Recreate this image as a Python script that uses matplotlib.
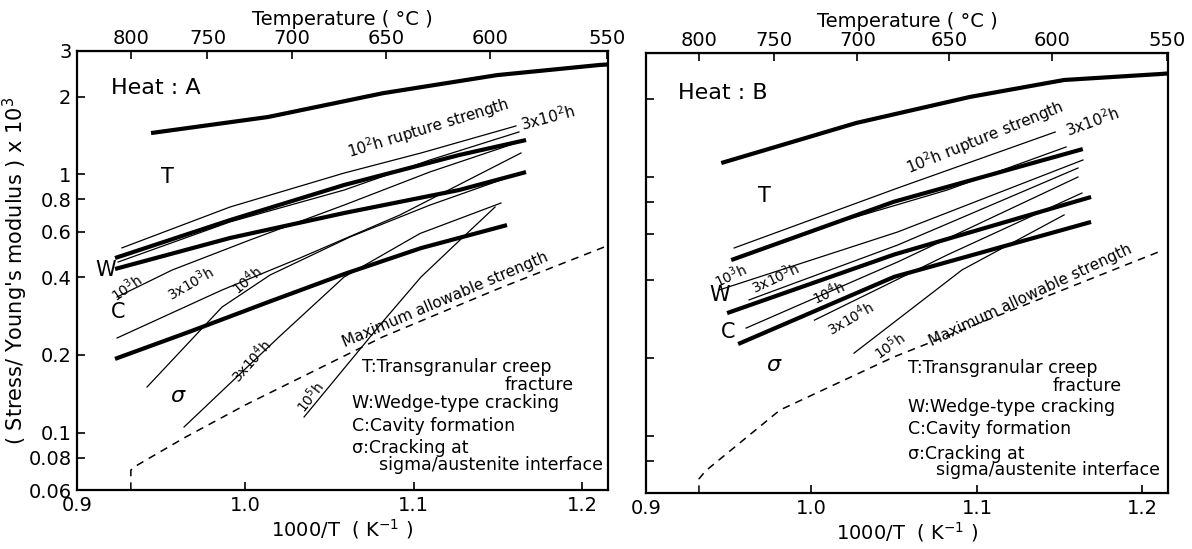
import numpy as np
import matplotlib
matplotlib.use("Agg")
import matplotlib.pyplot as plt

plt.rcParams['font.family'] = ['DejaVu Sans']

# ---------------- data: Heat A ----------------
A_T_x = [0.944, 1.0135, 1.0818, 1.1496, 1.2108, 1.2155]
A_T_y = [1.444, 1.666, 2.06, 2.42, 2.65, 2.66]
A_W_x = [0.9226, 0.991, 1.0587, 1.127, 1.1668]
A_W_y = [0.474, 0.665, 0.909, 1.187, 1.357]
A_C_x = [0.9226, 0.991, 1.0587, 1.127, 1.1668]
A_C_y = [0.43, 0.567, 0.708, 0.869, 1.02]
A_S_x = [0.9226, 0.9677, 1.0135, 1.0587, 1.1044, 1.1555]
A_S_y = [0.193, 0.247, 0.320, 0.411, 0.518, 0.636]

A_r1e2_x = [0.9267, 0.9909, 1.0587, 1.1044, 1.1608]
A_r1e2_y = [0.519, 0.747, 1.011, 1.209, 1.538]
A_r3e2_x = [0.9244, 0.9909, 1.0587, 1.1097, 1.1626]
A_r3e2_y = [0.4575, 0.654, 0.869, 1.136, 1.458]
A_r1e3_x = [0.9238, 0.9565, 1.0028, 1.0587, 1.1097, 1.1626]
A_r1e3_y = [0.335, 0.426, 0.557, 0.760, 1.021, 1.333]
A_r3e3_x = [0.9238, 0.9862, 1.0325, 1.0919, 1.1638]
A_r3e3_y = [0.2325, 0.3566, 0.4744, 0.696, 1.209]
A_r1e4_x = [0.9416, 0.9862, 1.0147, 1.0622, 1.1097, 1.1603]
A_r1e4_y = [0.1502, 0.3064, 0.4075, 0.5719, 0.760, 0.9936]
A_r3e4_x = [0.9636, 1.0200, 1.0587, 1.1038, 1.1519]
A_r3e4_y = [0.1052, 0.2346, 0.4004, 0.590, 0.774]
A_r1e5_x = [1.0349, 1.0800, 1.1044, 1.1276, 1.1484]
A_r1e5_y = [0.1150, 0.2610, 0.4004, 0.557, 0.747]

A_max_x = [0.932, 0.932, 0.936, 0.9636, 1.0, 1.0818, 1.15, 1.2155]
A_max_y = [0.06, 0.0717, 0.075, 0.0954, 0.128, 0.235, 0.36, 0.53]

# ---------------- data: Heat B ----------------
B_T_x = [0.9455, 1.027, 1.0958, 1.1527, 1.2114, 1.215]
B_T_y = [1.128, 1.61, 2.03, 2.36, 2.49, 2.50]
B_W_x = [0.9515, 1.05, 1.164]
B_W_y = [0.476, 0.80, 1.277]
B_C_x = [0.949, 1.05, 1.169]
B_C_y = [0.297, 0.50, 0.834]
B_S_x = [0.9557, 1.05, 1.169]
B_S_y = [0.2256, 0.41, 0.668]

B_r1e2_x = [0.9533, 1.0521, 1.1473]
B_r1e2_y = [0.530, 0.903, 1.486]
B_r3e2_x = [1.0042, 1.0820, 1.1539]
B_r3e2_y = [0.633, 0.887, 1.301]
B_r1e3_x = [0.9443, 1.0521, 1.1641]
B_r1e3_y = [0.365, 0.611, 1.159]
B_r3e3_x = [0.9623, 1.0521, 1.1611]
B_r3e3_y = [0.334, 0.544, 1.079]
B_r1e4_x = [0.9605, 1.0521, 1.1611]
B_r1e4_y = [0.260, 0.468, 0.996]
B_r3e4_x = [1.0018, 1.0820, 1.1635]
B_r3e4_y = [0.279, 0.498, 0.864]
B_r1e5_x = [1.0257, 1.0910, 1.1527]
B_r1e5_y = [0.208, 0.436, 0.711]

B_max_x = [0.932, 0.932, 0.936, 0.981, 1.0497, 1.2126]
B_max_y = [0.06, 0.068, 0.073, 0.1255, 0.201, 0.52]

yticks = [0.06, 0.08, 0.1, 0.2, 0.4, 0.6, 0.8, 1, 2, 3]
ytick_labels = ['0.06', '0.08', '0.1', '0.2', '0.4', '0.6', '0.8', '1', '2', '3']
xticks = [0.9, 1.0, 1.1, 1.2]
xtick_labels = ['0.9', '1.0', '1.1', '1.2']
temp_ticks = [800, 750, 700, 650, 600, 550]

fig = plt.figure(figsize=(11.92, 5.49), dpi=100)
axA = fig.add_axes([77/1192, 1-490/549, 531/1192, 439/549])
axB = fig.add_axes([646/1192, 1-493/549, 522/1192, 440/549])

THICK = 3.0
THIN = 0.9

def style_axes(ax, show_ylabels):
    ax.set_yscale('log')
    ax.set_ylim(0.06, 3)
    ax.set_xlim(0.9, 1.2155)
    ax.set_yticks(yticks)
    ax.minorticks_off()
    ax.set_yticklabels(ytick_labels if show_ylabels else [])
    ax.set_xticks(xticks)
    ax.set_xticklabels(xtick_labels)
    ax.tick_params(direction='in', length=6, width=1.2, labelsize=14, pad=4)
    for s in ax.spines.values():
        s.set_linewidth(1.6)
    sec = ax.secondary_xaxis('top', functions=(lambda x: 1000/np.asarray(x, float) - 273,
                                                lambda t: 1000/(np.asarray(t, float) + 273)))
    sec.set_xticks(temp_ticks)
    sec.set_xticklabels([str(t) for t in temp_ticks])
    sec.tick_params(direction='in', length=6, width=1.2, labelsize=14, pad=2)
    sec.set_xlabel('Temperature ( °C )', fontsize=14, labelpad=3)
    ax.set_xlabel('1000/T  ( K$^{-1}$ )', fontsize=14, labelpad=2)

def draw(ax, thick, thin, mx):
    for x, y in thick:
        ax.plot(x, y, color='black', lw=THICK, solid_capstyle='butt', solid_joinstyle='round')
    for x, y in thin:
        ax.plot(x, y, color='black', lw=THIN)
    ax.plot(mx[0], mx[1], color='black', lw=1.1, ls=(0, (5, 4)))

style_axes(axA, True)
style_axes(axB, False)
axA.set_ylabel("( Stress/ Young's modulus ) x 10$^{3}$", fontsize=15)
axA.yaxis.set_label_coords(-0.088, 0.5)

draw(axA,
     [(A_T_x, A_T_y), (A_W_x, A_W_y), (A_C_x, A_C_y), (A_S_x, A_S_y)],
     [(A_r1e2_x, A_r1e2_y), (A_r3e2_x, A_r3e2_y), (A_r1e3_x, A_r1e3_y), (A_r3e3_x, A_r3e3_y),
      (A_r1e4_x, A_r1e4_y), (A_r3e4_x, A_r3e4_y), (A_r1e5_x, A_r1e5_y)],
     (A_max_x, A_max_y))
draw(axB,
     [(B_T_x, B_T_y), (B_W_x, B_W_y), (B_C_x, B_C_y), (B_S_x, B_S_y)],
     [(B_r1e2_x, B_r1e2_y), (B_r3e2_x, B_r3e2_y), (B_r1e3_x, B_r1e3_y), (B_r3e3_x, B_r3e3_y),
      (B_r1e4_x, B_r1e4_y), (B_r3e4_x, B_r3e4_y), (B_r1e5_x, B_r1e5_y)],
     (B_max_x, B_max_y))

def txt(ax, x, y, s, size=12, rot=0, ha='center', va='center', style='normal'):
    ax.text(x, y, s, transform=ax.transAxes, fontsize=size, rotation=rot,
            ha=ha, va=va, style=style, rotation_mode='anchor')

# Heat A annotations
txt(axA, 0.064, 0.916, 'Heat : A', size=16, ha='left')
txt(axA, 0.1695, 0.713, 'T', size=15)
txt(axA, 0.053, 0.501, 'W', size=15)
txt(axA, 0.077, 0.405, 'C', size=15)
txt(axA, 0.190, 0.214, 'σ', size=16, style='italic')
txt(axA, 0.661, 0.825, '10$^{2}$h rupture strength', size=11, rot=17)
txt(axA, 0.887, 0.848, '3x10$^{2}$h', size=11, rot=15)
txt(axA, 0.094, 0.462, '10$^{3}$h', size=10, rot=35)
txt(axA, 0.213, 0.472, '3x10$^{3}$h', size=10, rot=30)
txt(axA, 0.32, 0.478, '10$^{4}$h', size=10, rot=40)
txt(axA, 0.328, 0.294, '3x10$^{4}$h', size=10, rot=48)
txt(axA, 0.439, 0.212, '10$^{5}$h', size=10, rot=52)
txt(axA, 0.693, 0.433, 'Maximum allowable strength', size=11, rot=23)
txt(axA, 0.537, 0.280, 'T:Transgranular creep', size=12.5, ha='left')
txt(axA, 0.936, 0.239, 'fracture', size=12.5, ha='right')
txt(axA, 0.518, 0.198, 'W:Wedge-type cracking', size=12.5, ha='left')
txt(axA, 0.518, 0.146, 'C:Cavity formation', size=12.5, ha='left')
txt(axA, 0.518, 0.0957, 'σ:Cracking at', size=12.5, ha='left')
txt(axA, 0.569, 0.057, 'sigma/austenite interface', size=12.5, ha='left')

# Heat B annotations
txt(axB, 0.061, 0.909, 'Heat : B', size=16, ha='left')
txt(axB, 0.226, 0.675, 'T', size=15)
txt(axB, 0.142, 0.45, 'W', size=15)
txt(axB, 0.157, 0.366, 'C', size=15)
txt(axB, 0.245, 0.291, 'σ', size=16, style='italic')
txt(axB, 0.649, 0.809, '10$^{2}$h rupture strength', size=11, rot=22)
txt(axB, 0.856, 0.843, '3x10$^{2}$h', size=11, rot=20)
txt(axB, 0.161, 0.495, '10$^{3}$h', size=10, rot=25)
txt(axB, 0.247, 0.49, '3x10$^{3}$h', size=10, rot=25)
txt(axB, 0.349, 0.455, '10$^{4}$h', size=10, rot=25)
txt(axB, 0.391, 0.398, '3x10$^{4}$h', size=10, rot=30)
txt(axB, 0.467, 0.336, '10$^{5}$h', size=10, rot=35)
txt(axB, 0.736, 0.45, 'Maximum allowable strength', size=11, rot=25)
txt(axB, 0.502, 0.284, 'T:Transgranular creep', size=12.5, ha='left')
txt(axB, 0.912, 0.243, 'fracture', size=12.5, ha='right')
txt(axB, 0.502, 0.195, 'W:Wedge-type cracking', size=12.5, ha='left')
txt(axB, 0.502, 0.145, 'C:Cavity formation', size=12.5, ha='left')
txt(axB, 0.502, 0.0886, 'σ:Cracking at', size=12.5, ha='left')
txt(axB, 0.556, 0.052, 'sigma/austenite interface', size=12.5, ha='left')

fig.savefig('out.png', dpi=100)
